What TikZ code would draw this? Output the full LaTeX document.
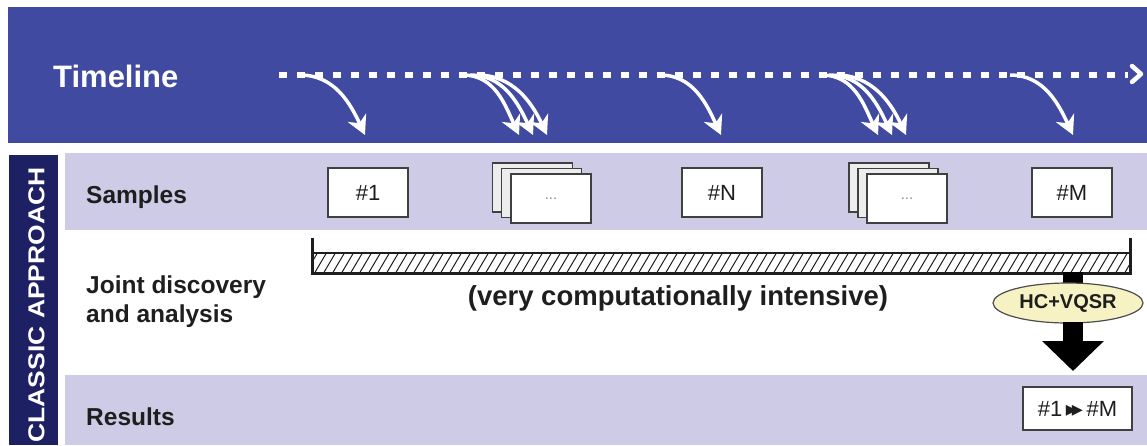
\documentclass[tikz,border=0pt]{standalone}
\usepackage{fontspec}
\setmainfont{Liberation Sans}
\newfontfamily\symfont{DejaVu Sans}
\usetikzlibrary{arrows.meta,shapes.geometric}

\definecolor{bandblue}{RGB}{63,74,160}
\definecolor{navy}{RGB}{30,32,100}
\definecolor{lav}{RGB}{205,203,230}
\definecolor{ink}{RGB}{30,30,30}
\definecolor{hcfill}{RGB}{246,242,196}

\begin{document}
\begin{tikzpicture}[x=1pt,y=-1pt,
  rowlabel/.style={anchor=base west, text=ink, inner sep=0pt,
    font=\fontsize{24.5}{28}\selectfont\bfseries},
  sample/.style={draw=black!75, line width=1.5pt, fill=white,
    minimum width=80pt, minimum height=49pt, inner sep=0pt,
    font=\fontsize{22}{26}\selectfont, text=ink},
  backsample/.style={sample, fill=black!7},
  dots/.style={text=black!45, font=\fontsize{15}{16}\selectfont},
  tick/.style={line width=3pt, draw=ink},
  drop/.style={draw=white, line width=3.5pt, -{Stealth[length=19pt,width=20pt,inset=6pt]}},
  bigarrow/.style={draw=black, line width=20pt, -{Triangle[length=30pt,width=60pt]}},
]
\useasboundingbox (0,0) rectangle (1147,445);

% background bands
\fill[bandblue] (8,7) rectangle (1147,143);
\fill[navy] (9,155) rectangle (58,445);
\fill[lav] (65,153) rectangle (1147,230);
\fill[lav] (65,375) rectangle (1147,445);

% headings and row labels
\node[anchor=base west, text=white, inner sep=0pt,
  font=\fontsize{31}{36}\selectfont\bfseries] (tl) at (53,87) {Timeline};
\node[text=white, rotate=90, inner sep=0pt,
  font=\fontsize{23}{26}\selectfont\bfseries] (ca) at (36.5,305)
  {\scalebox{1.15}[1]{CLASSIC APPROACH}};
\node[rowlabel] (ls) at (86,203) {Samples};
\node[rowlabel] (lj1) at (86,293) {Joint discovery};
\node[rowlabel] (lj2) at (86,322) {and analysis};
\node[rowlabel] (lr) at (86,425) {Results};

% timeline: dotted axis with closing chevron
\coordinate (t0) at (279,75);
\coordinate (t1) at (1128,75);
\draw[white, line width=6pt, dash pattern=on 8pt off 10pt] (t0) -- (t1);
\draw[white, line width=4.5pt, line join=round, line cap=round]
  (1132,66) -- (1141,74) -- (1132,82);

% sample boxes
\node[sample] (s1) at (368,192.5) {\#1};
\node[backsample] (sa3) at (532.5,187.5) {};
\node[backsample] (sa2) at (541.5,193) {};
\node[sample] (sa1) at (551,198.5) {};
\node[dots] at (sa1) {...};
\node[sample] (sn) at (722,192.5) {\#N};
\node[backsample] (sb3) at (889,187.5) {};
\node[backsample] (sb2) at (898,193) {};
\node[sample] (sb1) at (907,198.5) {};
\node[dots] at (sb1) {...};
\node[sample] (sm) at (1072,192.5) {\#M};

% arrival arrows from the timeline
\draw[drop] (300,75) to[out=0,in=115] (365,135);
\foreach \d in {0,14,28}
  \draw[drop] (463+0.5*\d,75) to[out=0,in=115] (519+\d,135);
\draw[drop] (660,75) to[out=0,in=115] (721,135);
\foreach \d in {0,14,28}
  \draw[drop] (822+0.5*\d,75) to[out=0,in=115] (878+\d,135);
\draw[drop] (1010,75) to[out=0,in=115] (1073,135);

% joint analysis bar
\begin{scope}
  \clip (312,253) rectangle (1130,273);
  \foreach \x in {296,305,...,1136}
    \draw[ink, line width=1pt] (\x,274) -- (\x+13,252);
\end{scope}
\draw[ink, line width=1.3pt] (312,253) -- (1130,253);
\draw[tick] (312,238) -- (312,273) -- (1130,273) -- (1130,238);

\node[text=ink, font=\fontsize{27.5}{32}\selectfont\bfseries] (ci) at (678,298)
  {(very computationally intensive)};

% genotyping step and result
\fill[black] (1063,272) rectangle (1083,292);
\node[ellipse, draw=black!70, line width=1.2pt, fill=hcfill,
  minimum width=150pt, minimum height=40pt, inner sep=0pt,
  font=\fontsize{20}{24}\selectfont\bfseries, text=ink] (hc) at (1068,303) {HC+VQSR};
\node[sample, minimum width=109pt, minimum height=43pt] (res) at (1077.5,408.5)
  {\#1\,{\symfont\fontsize{22}{22}\selectfont ▸\kern-5pt▸}\,\#M};
\coordinate (a0) at (1073,322);
\coordinate (a1) at (1073,371);
\draw[bigarrow] (a0) -- (a1);
\end{tikzpicture}
\end{document}
